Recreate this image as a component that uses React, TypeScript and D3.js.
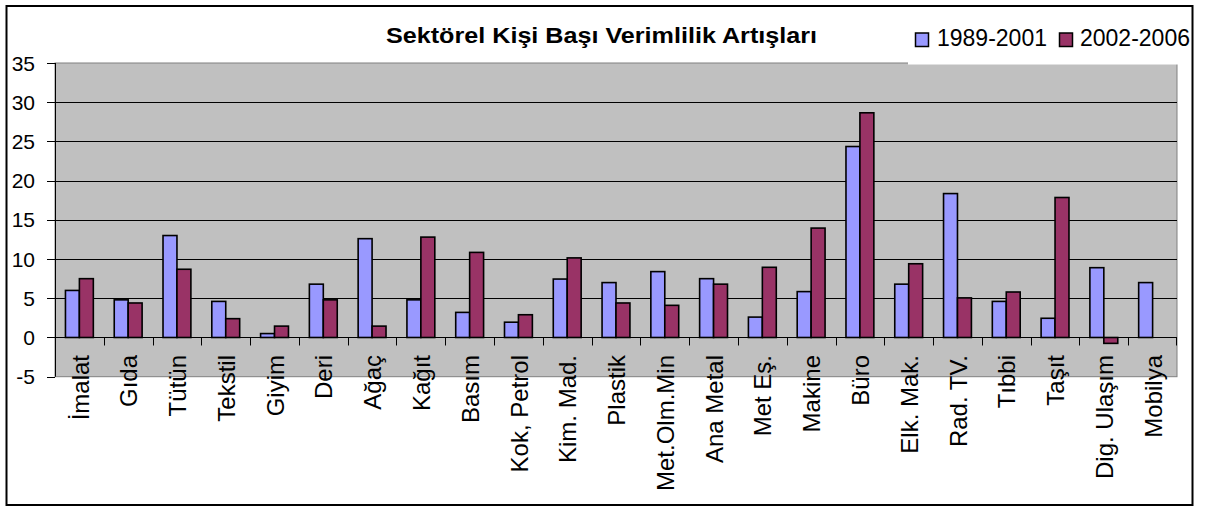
import React from "react";
import * as d3 from "d3";

const categories = [
  "İmalat", "Gıda", "Tütün", "Tekstil", "Giyim", "Deri", "Ağaç", "Kağıt", "Basım",
  "Kok, Petrol", "Kim. Mad.", "Plastik", "Met.Olm.Min", "Ana Metal", "Met Eş.", "Makine",
  "Büro", "Elk. Mak.", "Rad. TV.", "Tıbbi", "Taşıt", "Dig. Ulaşım", "Mobilya",
];
const series1Name = "1989-2001";
const series2Name = "2002-2006";
const series1 = [6.0, 4.8, 13.0, 4.6, 0.5, 6.8, 12.6, 4.8, 3.2, 1.95, 7.45, 7.0, 8.4, 7.5, 2.6, 5.85, 24.35, 6.8, 18.35, 4.6, 2.45, 8.9, 7.0];
const series2: (number | null)[] = [7.5, 4.4, 8.7, 2.4, 1.45, 4.8, 1.45, 12.8, 10.85, 2.9, 10.15, 4.4, 4.1, 6.8, 8.95, 13.95, 28.65, 9.4, 5.05, 5.8, 17.85, -0.75, null];
const yTicks = [-5, 0, 5, 10, 15, 20, 25, 30, 35];
const title = "Sektörel Kişi Başı Verimlilik Artışları";

const W = 1207;
const H = 509;
const plotL = 55;
const plotR = 1177;
const plotT = 63;
const plotB = 376.7;

const FONT = "'Liberation Sans', Arial, sans-serif";
const C1 = "#9999FF";
const C2 = "#993366";

export default function App() {
  const y = d3.scaleLinear().domain([-5, 35]).range([plotB, plotT]);
  const x = d3.scaleBand().domain(categories).range([plotL, plotR]).paddingInner(0).paddingOuter(0);
  const bw = x.bandwidth();
  const barW = bw / 3.5;
  const gap = (bw - 2 * barW) / 2;
  const y0 = y(0);

  const bar = (v: number | null, xs: number, color: string, key: string) => {
    if (v === null || v === undefined) return null;
    const top = Math.min(y(v), y0);
    const h = Math.abs(y(v) - y0);
    return (
      <rect key={key} x={xs} y={top} width={barW} height={h} fill={color} stroke="#000" strokeWidth={1.6} />
    );
  };

  return (
    <svg width={W} height={H} style={{ position: "absolute", left: 0, top: 0 }} viewBox={`0 0 ${W} ${H}`}>
      <rect x={0} y={0} width={W} height={H} fill="#fff" />
      {/* plot area */}
      <rect x={plotL} y={plotT} width={plotR - plotL} height={plotB - plotT} fill="#C0C0C0" stroke="#808080" strokeWidth={1} />
      {/* gridlines */}
      {yTicks.filter((t) => t > -5 && t < 35).map((t) => (
        <line key={"g" + t} x1={plotL} x2={plotR} y1={Math.round(y(t)) + 0.5} y2={Math.round(y(t)) + 0.5} stroke="#000" strokeWidth={1} />
      ))}
      {/* y axis line and ticks */}
      <line x1={plotL + 0.5} x2={plotL + 0.5} y1={plotT} y2={plotB} stroke="#000" strokeWidth={1} />
      {yTicks.map((t) => (
        <g key={"yt" + t}>
          <line x1={plotL - 8} x2={plotL} y1={Math.round(y(t)) + 0.5} y2={Math.round(y(t)) + 0.5} stroke="#000" strokeWidth={1} />
          <text x={35} y={y(t)} dy="0.36em" textAnchor="end" fontFamily={FONT} fontSize={21} fill="#000">
            {t}
          </text>
        </g>
      ))}
      {/* bars */}
      {categories.map((c, i) => {
        const xs = (x(c) as number) + gap;
        return (
          <g key={"b" + i}>
            {bar(series1[i], xs, C1, "s1")}
            {bar(series2[i], xs + barW, C2, "s2")}
          </g>
        );
      })}
      {/* category axis at zero */}
      <line x1={plotL} x2={plotR} y1={Math.round(y0) + 0.5} y2={Math.round(y0) + 0.5} stroke="#000" strokeWidth={1} />
      {categories.map((c, i) => (
        <line key={"xt" + i} x1={Math.round(x(c) as number) + 0.5} x2={Math.round(x(c) as number) + 0.5} y1={y0} y2={y0 + 8} stroke="#000" strokeWidth={1} />
      ))}
      <line x1={plotR - 0.5} x2={plotR - 0.5} y1={y0} y2={y0 + 8} stroke="#000" strokeWidth={1} />
      {/* category labels */}
      {categories.map((c, i) => {
        const cx = (x(c) as number) + bw / 2;
        return (
          <text key={"xl" + i} transform={`translate(${cx},355) rotate(-90)`} dy="0.38em" textAnchor="end" fontFamily={FONT} fontSize={24} fill="#000">
            {c}
          </text>
        );
      })}
      {/* legend box over plot top */}
      <rect x={908} y={14} width={283} height={50.5} fill="#fff" />
      <rect x={915.5} y={33} width={13} height={13.5} fill={C1} stroke="#000" strokeWidth={1.5} />
      <text x={937} y={46} fontFamily={FONT} fontSize={23} fill="#000">{series1Name}</text>
      <rect x={1059.5} y={33} width={13} height={13.5} fill={C2} stroke="#000" strokeWidth={1.5} />
      <text x={1080} y={46} fontFamily={FONT} fontSize={23} fill="#000">{series2Name}</text>
      {/* title */}
      <text x={386} y={43.3} textAnchor="start" fontFamily={FONT} fontSize={22} fontWeight="bold" fill="#000" textLength={431} lengthAdjust="spacingAndGlyphs">
        {title}
      </text>
      {/* outer border */}
      <rect x={6.5} y={6} width={1186} height={499} fill="none" stroke="#000" strokeWidth={2} />
    </svg>
  );
}
